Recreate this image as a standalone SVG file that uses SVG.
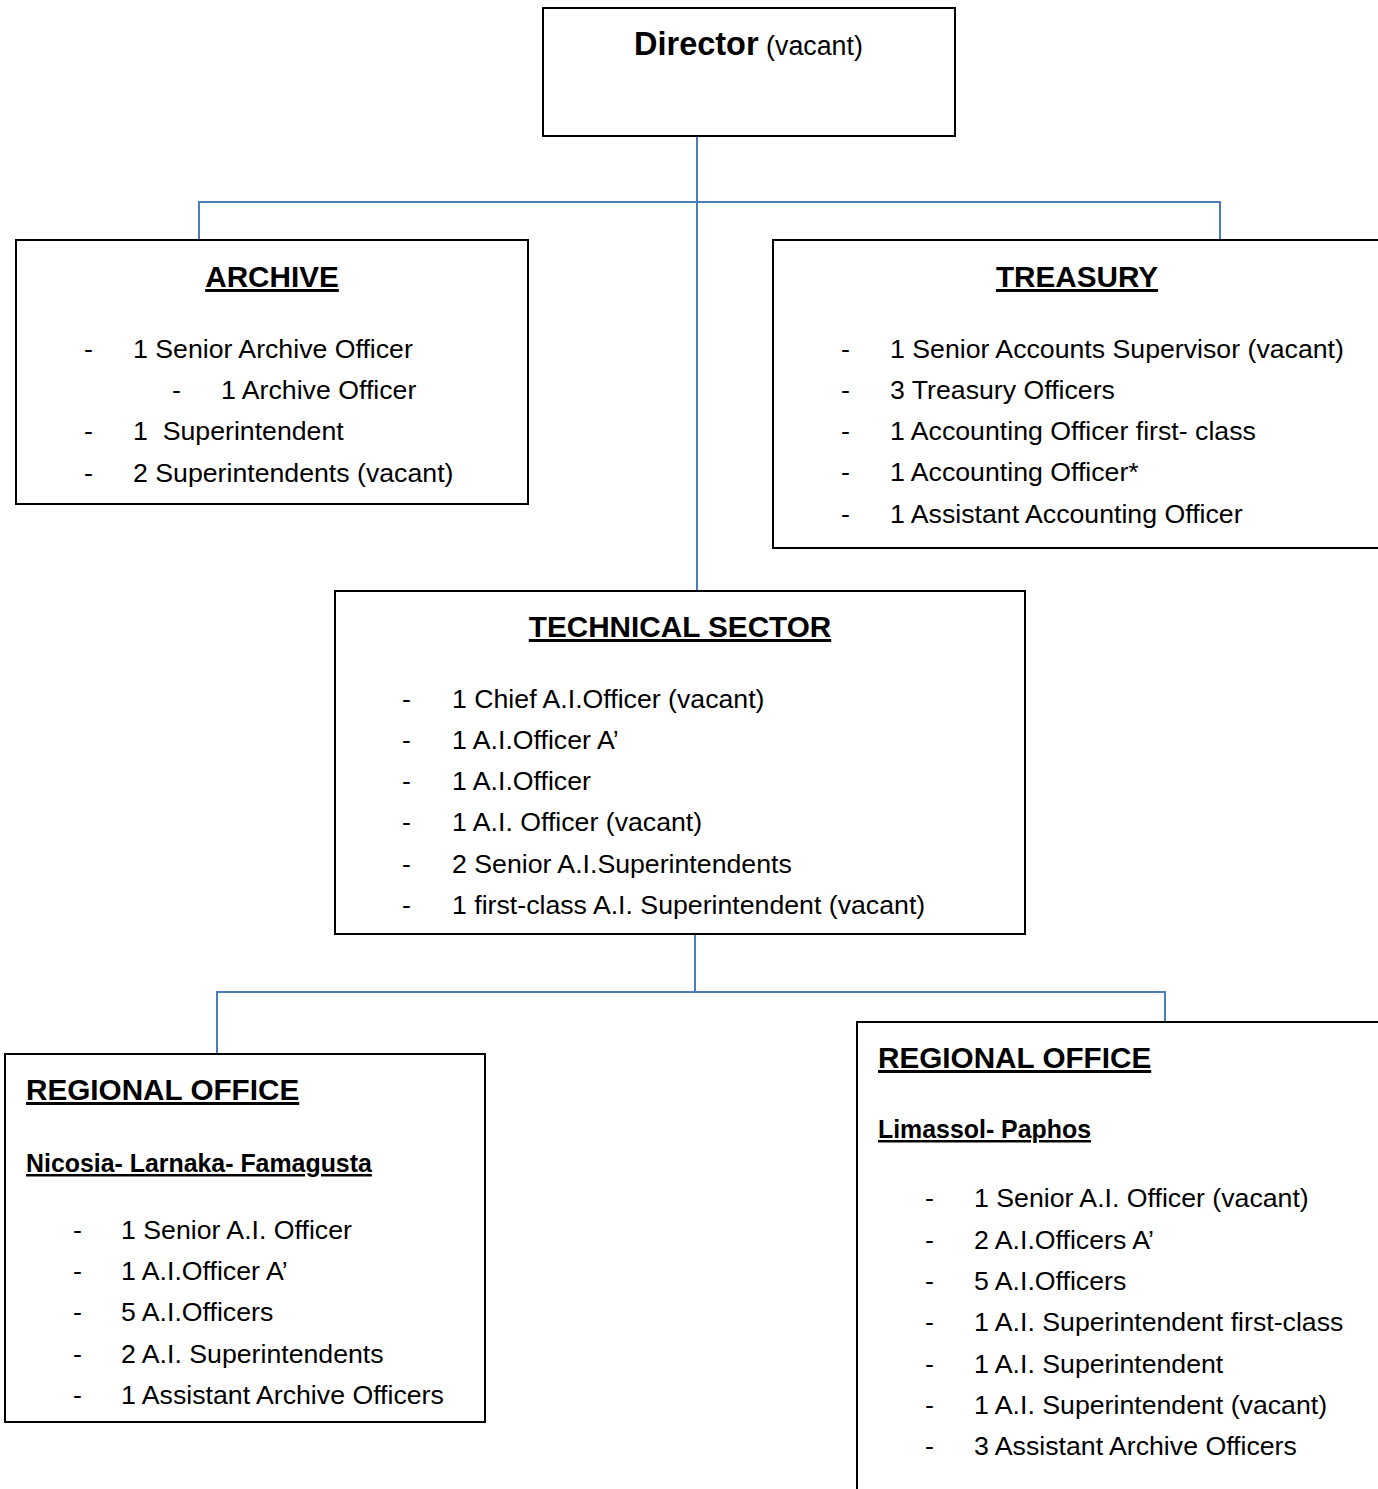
<svg xmlns="http://www.w3.org/2000/svg" width="1378" height="1489" viewBox="0 0 1378 1489">
<style>
.box{fill:#fff;stroke:#000;stroke-width:2}
.con{fill:none;stroke:#4a7ebb;stroke-width:2}
text{font-family:"Liberation Sans",Arial,sans-serif;fill:#000}
.t{font-weight:bold;font-size:29.7px;text-decoration:underline}
.sub{font-weight:bold;font-size:24.9px;text-decoration:underline}
.i{font-size:26.7px}
</style>
<rect width="1378" height="1489" fill="#fff"/>
<g id="connectors">
<path class="con" d="M697 136V591M199 240V202H1220V240"/>
<path class="con" d="M695 934V992M217 1054V992H1165V1022"/>
</g>
<g id="director">
<rect class="box" x="543" y="8" width="412" height="128"/>
<text x="634" y="55"><tspan font-weight="bold" font-size="32.5px">Director</tspan><tspan font-size="26.8px"> (vacant)</tspan></text>
</g>
<g id="archive">
<rect class="box" x="16" y="240" width="512" height="264"/>
<text class="t" x="272" y="287" text-anchor="middle">ARCHIVE</text>
<text class="i" x="84" y="358">-</text><text class="i" x="133" y="358">1 Senior Archive Officer</text>
<text class="i" x="172" y="399">-</text><text class="i" x="221" y="399">1 Archive Officer</text>
<text class="i" x="84" y="440">-</text><text class="i" x="133" y="440" xml:space="preserve" style="white-space:pre">1  Superintendent</text>
<text class="i" x="84" y="482">-</text><text class="i" x="133" y="482">2 Superintendents (vacant)</text>
</g>
<g id="treasury">
<rect class="box" x="773" y="240" width="620" height="308"/>
<text class="t" x="1077" y="287" text-anchor="middle">TREASURY</text>
<text class="i" x="841" y="358">-</text><text class="i" x="890" y="358">1 Senior Accounts Supervisor (vacant)</text>
<text class="i" x="841" y="399">-</text><text class="i" x="890" y="399">3 Treasury Officers</text>
<text class="i" x="841" y="440">-</text><text class="i" x="890" y="440">1 Accounting Officer first- class</text>
<text class="i" x="841" y="481">-</text><text class="i" x="890" y="481">1 Accounting Officer*</text>
<text class="i" x="841" y="523">-</text><text class="i" x="890" y="523">1 Assistant Accounting Officer</text>
</g>
<g id="technical">
<rect class="box" x="335" y="591" width="690" height="343"/>
<text class="t" x="680" y="637" text-anchor="middle">TECHNICAL SECTOR</text>
<text class="i" x="402" y="708">-</text><text class="i" x="452" y="708">1 Chief A.I.Officer (vacant)</text>
<text class="i" x="402" y="749">-</text><text class="i" x="452" y="749">1 A.I.Officer A’</text>
<text class="i" x="402" y="790">-</text><text class="i" x="452" y="790">1 A.I.Officer</text>
<text class="i" x="402" y="831">-</text><text class="i" x="452" y="831">1 A.I. Officer (vacant)</text>
<text class="i" x="402" y="873">-</text><text class="i" x="452" y="873">2 Senior A.I.Superintendents</text>
<text class="i" x="402" y="914">-</text><text class="i" x="452" y="914">1 first-class A.I. Superintendent (vacant)</text>
</g>
<g id="regional-nicosia">
<rect class="box" x="5" y="1054" width="480" height="368"/>
<text class="t" x="26" y="1100">REGIONAL OFFICE</text>
<text class="sub" x="26" y="1172">Nicosia- Larnaka- Famagusta</text>
<text class="i" x="73" y="1239">-</text><text class="i" x="121" y="1239">1 Senior A.I. Officer</text>
<text class="i" x="73" y="1280">-</text><text class="i" x="121" y="1280">1 A.I.Officer A’</text>
<text class="i" x="73" y="1321">-</text><text class="i" x="121" y="1321">5 A.I.Officers</text>
<text class="i" x="73" y="1363">-</text><text class="i" x="121" y="1363">2 A.I. Superintendents</text>
<text class="i" x="73" y="1404">-</text><text class="i" x="121" y="1404">1 Assistant Archive Officers</text>
</g>
<g id="regional-limassol">
<rect class="box" x="857" y="1022" width="540" height="490"/>
<text class="t" x="878" y="1068">REGIONAL OFFICE</text>
<text class="sub" x="878" y="1138">Limassol- Paphos</text>
<text class="i" x="925" y="1207">-</text><text class="i" x="974" y="1207">1 Senior A.I. Officer (vacant)</text>
<text class="i" x="925" y="1249">-</text><text class="i" x="974" y="1249">2 A.I.Officers A’</text>
<text class="i" x="925" y="1290">-</text><text class="i" x="974" y="1290">5 A.I.Officers</text>
<text class="i" x="925" y="1331">-</text><text class="i" x="974" y="1331">1 A.I. Superintendent first-class</text>
<text class="i" x="925" y="1373">-</text><text class="i" x="974" y="1373">1 A.I. Superintendent</text>
<text class="i" x="925" y="1414">-</text><text class="i" x="974" y="1414">1 A.I. Superintendent (vacant)</text>
<text class="i" x="925" y="1455">-</text><text class="i" x="974" y="1455">3 Assistant Archive Officers</text>
</g>
</svg>
